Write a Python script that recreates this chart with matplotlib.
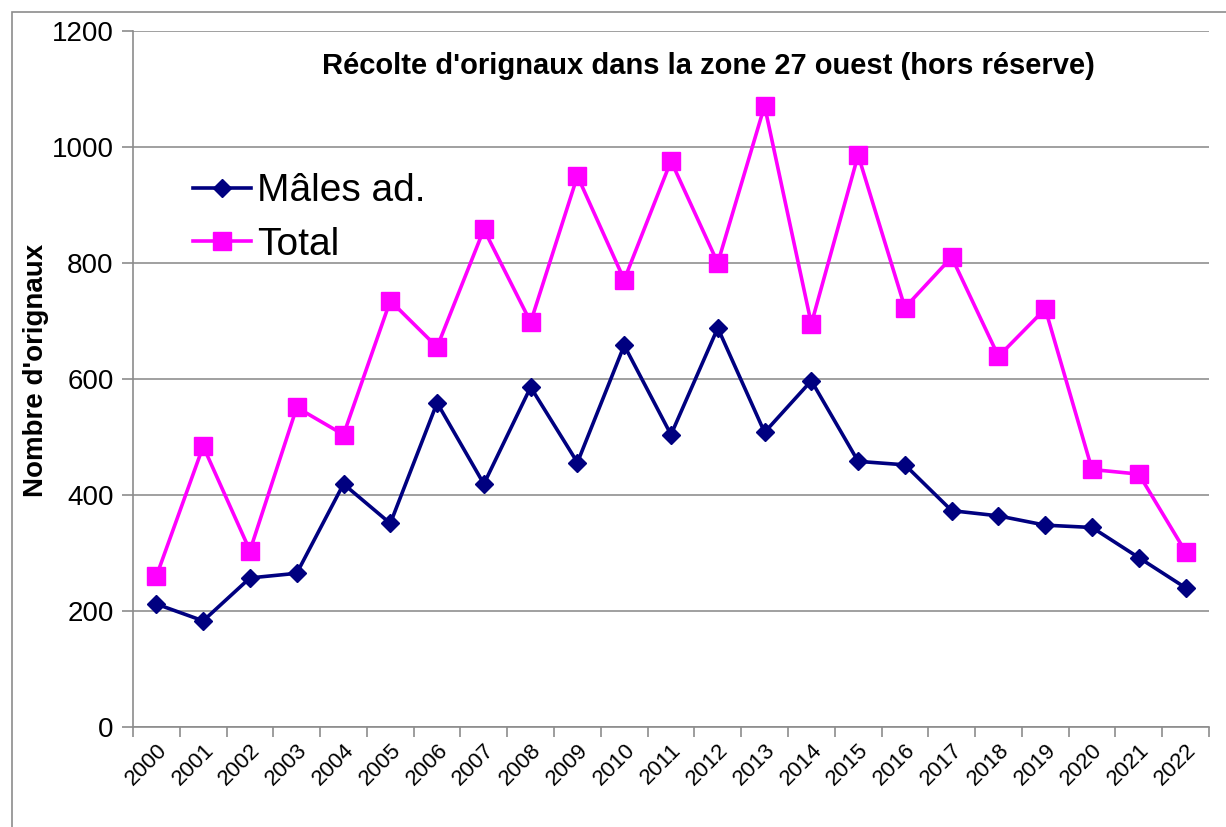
import numpy as np
import matplotlib.pyplot as plt
from matplotlib.patches import Rectangle

plt.rcParams['font.family'] = ['Liberation Sans', 'DejaVu Sans']

annees = [str(a) for a in range(2000, 2023)]
males = [212, 183, 257, 265, 419, 351, 559, 419, 586, 456, 658, 504, 688, 508,
         597, 458, 452, 373, 364, 348, 344, 292, 240]
total = [260, 484, 304, 551, 504, 735, 655, 858, 698, 950, 771, 976, 800, 1071,
         695, 986, 723, 810, 639, 721, 444, 436, 302]

x = np.arange(len(annees))

fig = plt.figure(figsize=(12.26, 8.27), dpi=100)
ax = fig.add_axes([133/1226, 1 - 727/827, (1209 - 133)/1226, (727 - 31)/827])

# cadre autour du graphique
fig.patches.append(Rectangle((12/1226, -0.1), 1.2, 1 - 12/827 + 0.1, transform=fig.transFigure,
                             fill=False, edgecolor='#8c8c8c', linewidth=1.2))

ax.plot(x, males, color='#000080', linewidth=2.6, marker='D', markersize=9.5,
        label='Mâles ad.', zorder=3)
ax.plot(x, total, color='#FF00FF', linewidth=2.6, marker='s', markersize=13,
        label='Total', zorder=3)

ax.set_xlim(-0.5, len(annees) - 0.5)
ax.set_ylim(0, 1200)
ax.set_yticks(range(0, 1201, 200))
ax.yaxis.grid(True, color='#a0a0a0', linewidth=1.4)
ax.set_axisbelow(True)

ax.set_xticks(np.arange(-0.5, len(annees)), labels=[])
ax.set_xticks(x, labels=annees, minor=True)
ax.tick_params(axis='x', which='major', length=7, width=1.2, color='#8c8c8c')
ax.tick_params(axis='x', which='minor', length=0, pad=9)
ax.tick_params(axis='y', length=8, width=1.2, color='#8c8c8c', labelsize=20, pad=6)
for lab in ax.get_xticklabels(minor=True):
    lab.set_rotation(45)
    lab.set_ha('right')
    lab.set_rotation_mode('anchor')
    lab.set_fontsize(16)

for s in ['top', 'right']:
    ax.spines[s].set_visible(False)
for s in ['left', 'bottom']:
    ax.spines[s].set_color('#8c8c8c')
    ax.spines[s].set_linewidth(1.2)

ax.set_ylabel("Nombre d'orignaux", fontsize=20, fontweight='bold')
ax.yaxis.set_label_coords(-0.078, 0.513)
ax.text(0.535, 0.95, "Récolte d'orignaux dans la zone 27 ouest (hors réserve)",
        transform=ax.transAxes, ha='center', va='center', fontsize=21, fontweight='bold')

ax.legend(loc='upper left', bbox_to_anchor=(0.041, 0.818), frameon=False, fontsize=28,
          handlelength=1.5, handletextpad=0.15, labelspacing=0.45, borderaxespad=0)

fig.savefig('out.png', dpi=100)
